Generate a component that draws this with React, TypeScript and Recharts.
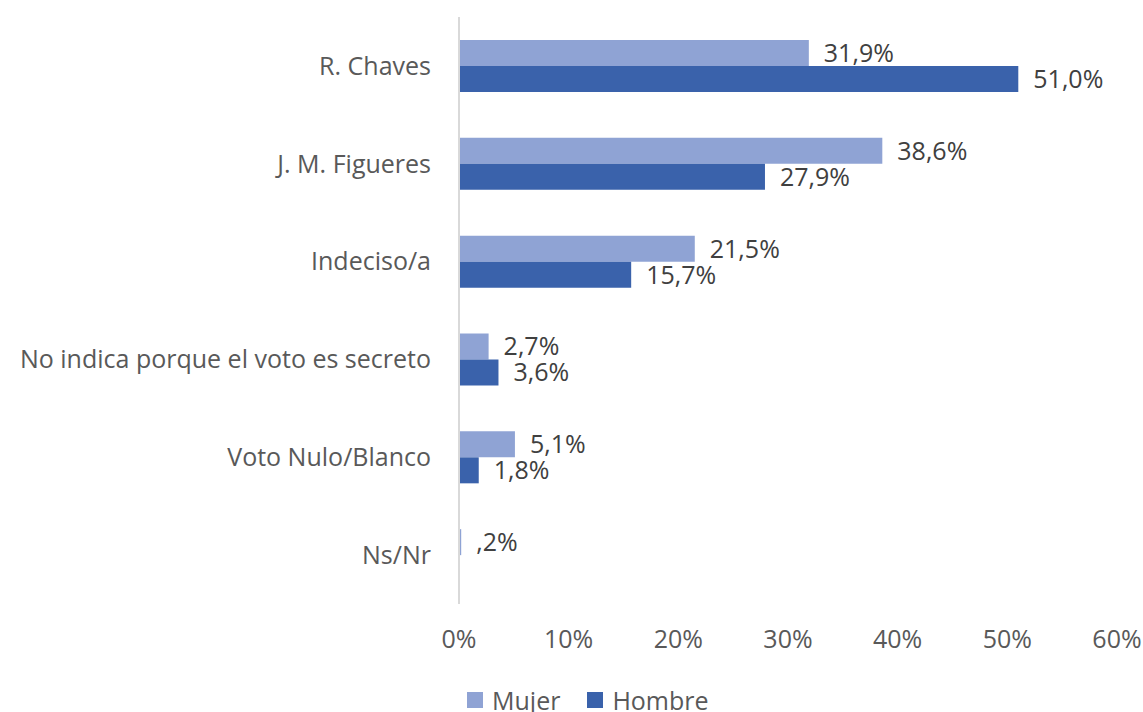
import { Bar, BarChart, LabelList, Legend, XAxis, YAxis } from 'recharts'

const categories = [
  'R. Chaves',
  'J. M. Figueres',
  'Indeciso/a',
  'No indica porque el voto es secreto',
  'Voto Nulo/Blanco',
  'Ns/Nr'
]
const mujer = [31.9, 38.6, 21.5, 2.7, 5.1, 0.2]
const hombre: Array<number | null> = [51.0, 27.9, 15.7, 3.6, 1.8, null]
const xTicks = [0, 10, 20, 30, 40, 50, 60]

const seriesNames = ['Mujer', 'Hombre']
const seriesColors = ['#8FA3D4', '#3A62AB']

const data = categories.map((name, i) => ({ name, Mujer: mujer[i], Hombre: hombre[i] }))

const font = '"Open Sans", sans-serif'

const formatPct = (v: any) => {
  if (v === null || v === undefined) return ''
  const s = Number(v).toFixed(1).replace('.', ',')
  return (s.startsWith('0') ? s.slice(1) : s) + '%'
}

// legend drawn by hand so the order stays Mujer, Hombre
const renderLegend = () => (
  <div style={{ height: 48, paddingTop: 24, boxSizing: 'border-box', display: 'flex', paddingLeft: 467, fontFamily: font, fontSize: 25, lineHeight: '24px', color: '#595959' }}>
    {seriesNames.map((name, i) => (
      <div key={name} style={{ display: 'flex', alignItems: 'center', marginRight: 27 }}>
        <span style={{ width: 16, height: 16, background: seriesColors[i], marginRight: 9, display: 'inline-block' }} />
        <span>{name}</span>
      </div>
    ))}
  </div>
)

export default function App() {
  return (
    <div style={{ position: 'absolute', left: 0, top: 0, fontFamily: font }}>
      <BarChart
        width={1143}
        height={712}
        data={data}
        layout="vertical"
        margin={{ top: 17, right: 26, bottom: 0, left: 0 }}
        barGap={0}
      >
        <XAxis
          type="number"
          domain={[0, 60]}
          ticks={xTicks}
          tickFormatter={(v) => `${v}%`}
          axisLine={false}
          tickLine={false}
          tickMargin={20}
          height={60}
          tick={{ fill: '#595959', fontSize: 25, fontFamily: font }}
        />
        <YAxis
          type="category"
          dataKey="name"
          width={459}
          tickLine={false}
          axisLine={{ stroke: '#d9d9d9', strokeWidth: 2 }}
          tickMargin={22}
          tick={{ fill: '#595959', fontSize: 25, fontFamily: font }}
        />
        <Legend verticalAlign="bottom" align="left" content={renderLegend} />
        <Bar dataKey="Mujer" fill={seriesColors[0]} barSize={26} isAnimationActive={false}>
          <LabelList dataKey="Mujer" position="right" offset={15} formatter={formatPct} fill="#404040" fontSize={25} fontFamily={font} />
        </Bar>
        <Bar dataKey="Hombre" fill={seriesColors[1]} barSize={26} isAnimationActive={false}>
          <LabelList dataKey="Hombre" position="right" offset={15} formatter={formatPct} fill="#404040" fontSize={25} fontFamily={font} />
        </Bar>
      </BarChart>
    </div>
  )
}
